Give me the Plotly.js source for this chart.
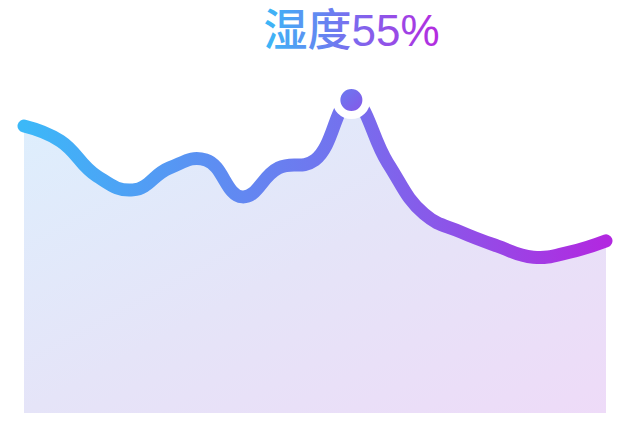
<!DOCTYPE html>
<html>
<head>
<meta charset="utf-8">
<script src="https://cdn.plot.ly/plotly-3.0.1.min.js"></script>
<style>
  body { margin: 0; background: #fff; }
  #chart { width: 630px; height: 440px; }
</style>
</head>
<body>
<svg width="0" height="0" style="position:absolute">
  <defs>
    <linearGradient id="lineGrad" x1="0" y1="0" x2="1" y2="0">
      <stop offset="0" stop-color="#3cb8f8"/>
      <stop offset="0.55" stop-color="#7471ee"/>
      <stop offset="1" stop-color="#b228e0"/>
    </linearGradient>
    <linearGradient id="fillGrad" x1="0" y1="0" x2="1" y2="1">
      <stop offset="0" stop-color="#ddeffd"/>
      <stop offset="0.5" stop-color="#e5e4f8"/>
      <stop offset="1" stop-color="#eedbf8"/>
    </linearGradient>
    <linearGradient id="titleGrad" x1="0" y1="0" x2="1" y2="0">
      <stop offset="0" stop-color="#3ab9f7"/>
      <stop offset="0.5" stop-color="#7a6cee"/>
      <stop offset="1" stop-color="#b52adf"/>
    </linearGradient>
    <linearGradient id="dotGrad" x1="0" y1="0" x2="1" y2="1">
      <stop offset="0" stop-color="#6680f2"/>
      <stop offset="1" stop-color="#8a52e6"/>
    </linearGradient>
  </defs>
</svg>
<div id="chart"></div>
<script>
// humidity curve, 17 samples
var idx = [0, 1, 2, 3, 4, 5, 6, 7, 8, 9, 10, 11, 12, 13, 14, 15, 16];
var humidity = [86.2, 81.7, 71.2, 67.0, 73.6, 76.0, 64.9, 73.6, 76.0, 94.0,
                75.1, 59.8, 54.4, 50.2, 46.8, 48.3, 51.7];
var peakIdx = 9;
var titleText = '湿度55%';

var area = {
    x: idx,
    y: humidity,
    type: 'scatter',
    mode: 'lines',
    line: {shape: 'spline', smoothing: 1.3, width: 13, color: '#7471ee'},
    fill: 'tozeroy',
    fillcolor: '#e5e4f8',
    hoverinfo: 'skip'
};

var peak = {
    x: [idx[peakIdx]],
    y: [humidity[peakIdx]],
    type: 'scatter',
    mode: 'markers',
    marker: {size: 30, color: '#7468ec', line: {color: '#ffffff', width: 8}},
    hoverinfo: 'skip'
};

// a few px of slack on each side so the round line caps are not clipped
var pad = 7 / 36.375;

var layout = {
    width: 630,
    height: 440,
    showlegend: false,
    paper_bgcolor: '#ffffff',
    plot_bgcolor: 'rgba(0,0,0,0)',
    margin: {l: 17, r: 17, t: 80, b: 27, pad: 0},
    title: {
        text: titleText,
        font: {family: 'Liberation Sans, Noto Sans CJK SC', size: 44, weight: 500, color: '#7a6cee'},
        xref: 'container', x: 351.5 / 630, xanchor: 'center',
        yref: 'container', y: 1 - 31 / 440, yanchor: 'middle'
    },
    xaxis: {
        range: [idx[0] - pad, idx[idx.length - 1] + pad],
        visible: false,
        fixedrange: true
    },
    yaxis: {
        range: [0, 100],
        visible: false,
        fixedrange: true
    }
};

Plotly.newPlot('chart', [area, peak], layout, {staticPlot: true, displayModeBar: false})
  .then(function (gd) {
    // gradients are not native to scatter lines, so repaint the drawn paths
    var fill = gd.querySelector('.scatterlayer .trace:first-child .js-fill');
    if (fill) fill.style.fill = 'url(#fillGrad)';
    var line = gd.querySelector('.scatterlayer .trace:first-child .js-line');
    if (line) {
        line.style.stroke = 'url(#lineGrad)';
        line.style.strokeLinecap = 'round';
        line.style.strokeLinejoin = 'round';
    }
    var dot = gd.querySelector('.scatterlayer .trace:last-child .point');
    if (dot) dot.style.fill = 'url(#dotGrad)';
    var title = gd.querySelector('.gtitle');
    if (title) title.style.fill = 'url(#titleGrad)';
  });
</script>
</body>
</html>
